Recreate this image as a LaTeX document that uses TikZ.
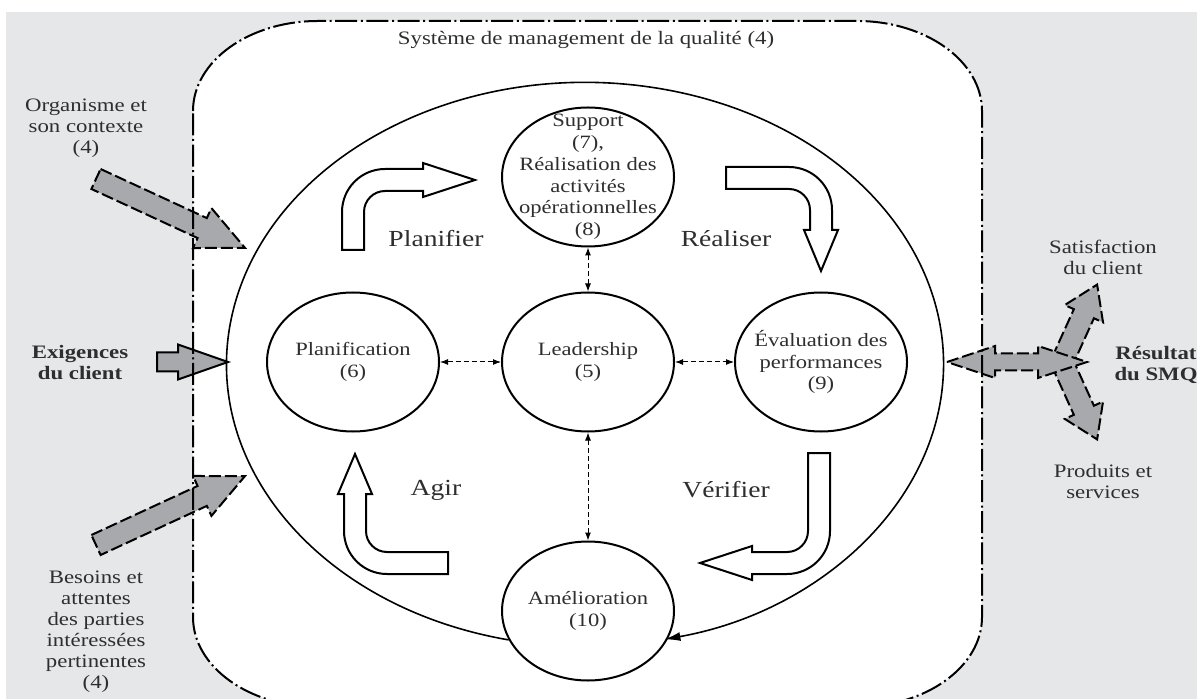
\documentclass[tikz,border=0pt]{standalone}
\usepackage{fontspec}
\setmainfont{Liberation Serif}[FakeStretch=1.2]
\usetikzlibrary{shapes.geometric, arrows.meta, positioning}
\definecolor{bggray}{HTML}{E6E7E8}
\definecolor{arrowgray}{HTML}{A7A9AC}
\definecolor{txtgray}{HTML}{2E2E2E}
\newcommand{\qmsframe}{(193,111) arc[start angle=180, end angle=270, x radius=125, y radius=90]
  -- (857,21) arc[start angle=270, end angle=360, x radius=125, y radius=90]
  -- (982,617) arc[start angle=0, end angle=90, x radius=125, y radius=90]
  -- (318,707) arc[start angle=90, end angle=180, x radius=125, y radius=90] -- cycle}

\begin{document}
\begin{tikzpicture}[
  x=0.5pt, y=-0.5pt,
  stage/.style={ellipse, draw, line width=1pt, fill=white, minimum width=86pt, minimum height=69.5pt, inner sep=-8pt, align=center, text=txtgray, font=\fontsize{9.4}{10.9}\selectfont},
  sidetext/.style={align=center, text=txtgray, font=\fontsize{9.5}{10.5}\selectfont},
  sidebold/.style={sidetext, font=\fontsize{9.5}{10.5}\selectfont\bfseries},
  phase/.style={text=txtgray, font=\fontsize{11.5}{13}\selectfont},
  link/.style={<->, >={Latex[length=4pt,width=3pt]}, dash pattern=on 2.5pt off 1.5pt, line width=0.5pt},
  pdcacycle/.style={-{Latex[length=8pt,width=4.5pt]}, line width=0.8pt},
  framedash/.style={line width=1pt, dash pattern=on 11pt off 1.8pt on 1pt off 1.8pt},
  grayarrow/.style={fill=arrowgray, draw, line width=1pt, dash pattern=on 6pt off 2pt, line join=miter},
  cyclearrow/.style={fill=white, draw, line width=1pt},
  pics/bendarrow/.style n args={3}{code={
    \draw[cyclearrow] (21,-#1) -- (43,-#1) -- (43,0) arc[start angle=0, end angle=90, radius=43]
      -- (-#2,43) -- (-#2,49) -- (-#3,32) -- (-#2,15) -- (-#2,21) -- (0,21)
      arc[start angle=90, end angle=0, radius=21] -- cycle;}},
  pics/blockarrow/.style n args={4}{code={
    \draw[grayarrow] (0,-#2) -- (#1-#4,-#2) -- (#1-#4,-#3) -- (#1,0)
      -- (#1-#4,#3) -- (#1-#4,#2) -- (0,#2) -- cycle;}}
]
  \useasboundingbox (0,0) rectangle (1197,699);
  \clip (0,0) rectangle (1197,699);
  \fill[bggray] (6,12) rectangle (1197,699);
  \fill[white] \qmsframe;

  \pic[rotate=-24.8] at (96,179) {blockarrow={164}{11}{22}{47}};
  \pic[grayarrow/.append style={solid}] at (157,362) {blockarrow={71}{9.5}{17.5}{50}};
  \pic[rotate=24.8] at (96,545) {blockarrow={164}{11}{22}{47}};
  \pic[rotate=65.6] at (1062,362) {blockarrow={85}{11}{21}{32}};
  \pic[rotate=-65.6] at (1062,362) {blockarrow={85}{11}{21}{32}};
  \draw[grayarrow] (947,362) -- (995,346) -- (995,353.5) -- (1038,353.5) -- (1038,346) -- (1087,362)
    -- (1038,378) -- (1038,370.5) -- (995,370.5) -- (995,378) -- cycle;

  \draw[framedash] \qmsframe;

  \node[stage] (lead) at (588,362) {Leadership\\(5)};
  \node[stage, left=30.5pt of lead] (plan) {Planification\\(6)};
  \node[stage, right=29.5pt of lead] (eval) {Évaluation des\\performances\\(9)};
  \node[stage, above=22pt of lead] (supp) {Support\\(7),\\Réalisation des\\activités\\opérationnelles\\(8)};
  \node[stage, below=54pt of lead] (amel) {Amélioration\\(10)};

  \draw[pdcacycle] (amel.200) arc[start angle=102.3, end angle=437.2, x radius=358.5, y radius=282];

  \draw[link] (plan) -- (lead);
  \draw[link] (lead) -- (eval);
  \draw[link] (supp) -- (lead);
  \draw[link] (lead) -- (amel);

  \pic[rotate=180] at (385,212) {bendarrow={38}{38}{90}};
  \pic[rotate=90] at (789,210) {bendarrow={63}{20}{61}};
  \pic at (787,531) {bendarrow={78}{35}{87}};
  \pic[rotate=-90] at (387,531) {bendarrow={61}{37}{77}};

  \node[phase] (planifier) at (436,239) {Planifier};
  \node[phase] (realiser) at (726,239) {Réaliser};
  \node[phase] (agir) at (436,490) {Agir};
  \node[phase] (verifier) at (726,490) {Vérifier};

  \node[sidetext] (title) at (586,40) {Système de management de la qualité (4)};
  \node[sidetext] (orga) at (86,128) {Organisme et\\son contexte\\(4)};
  \node[sidebold] (exig) at (80,363) {Exigences\\du client};
  \node[sidetext] (besoins) at (96,632) {Besoins et\\attentes\\des parties\\intéressées\\pertinentes\\(4)};
  \node[sidetext] (satis) at (1103,257) {Satisfaction\\du client};
  \node[sidebold] (result) at (1156,365) {Résultat\\du SMQ};
  \node[sidetext] (produits) at (1103,482) {Produits et\\services};
\end{tikzpicture}
\end{document}
